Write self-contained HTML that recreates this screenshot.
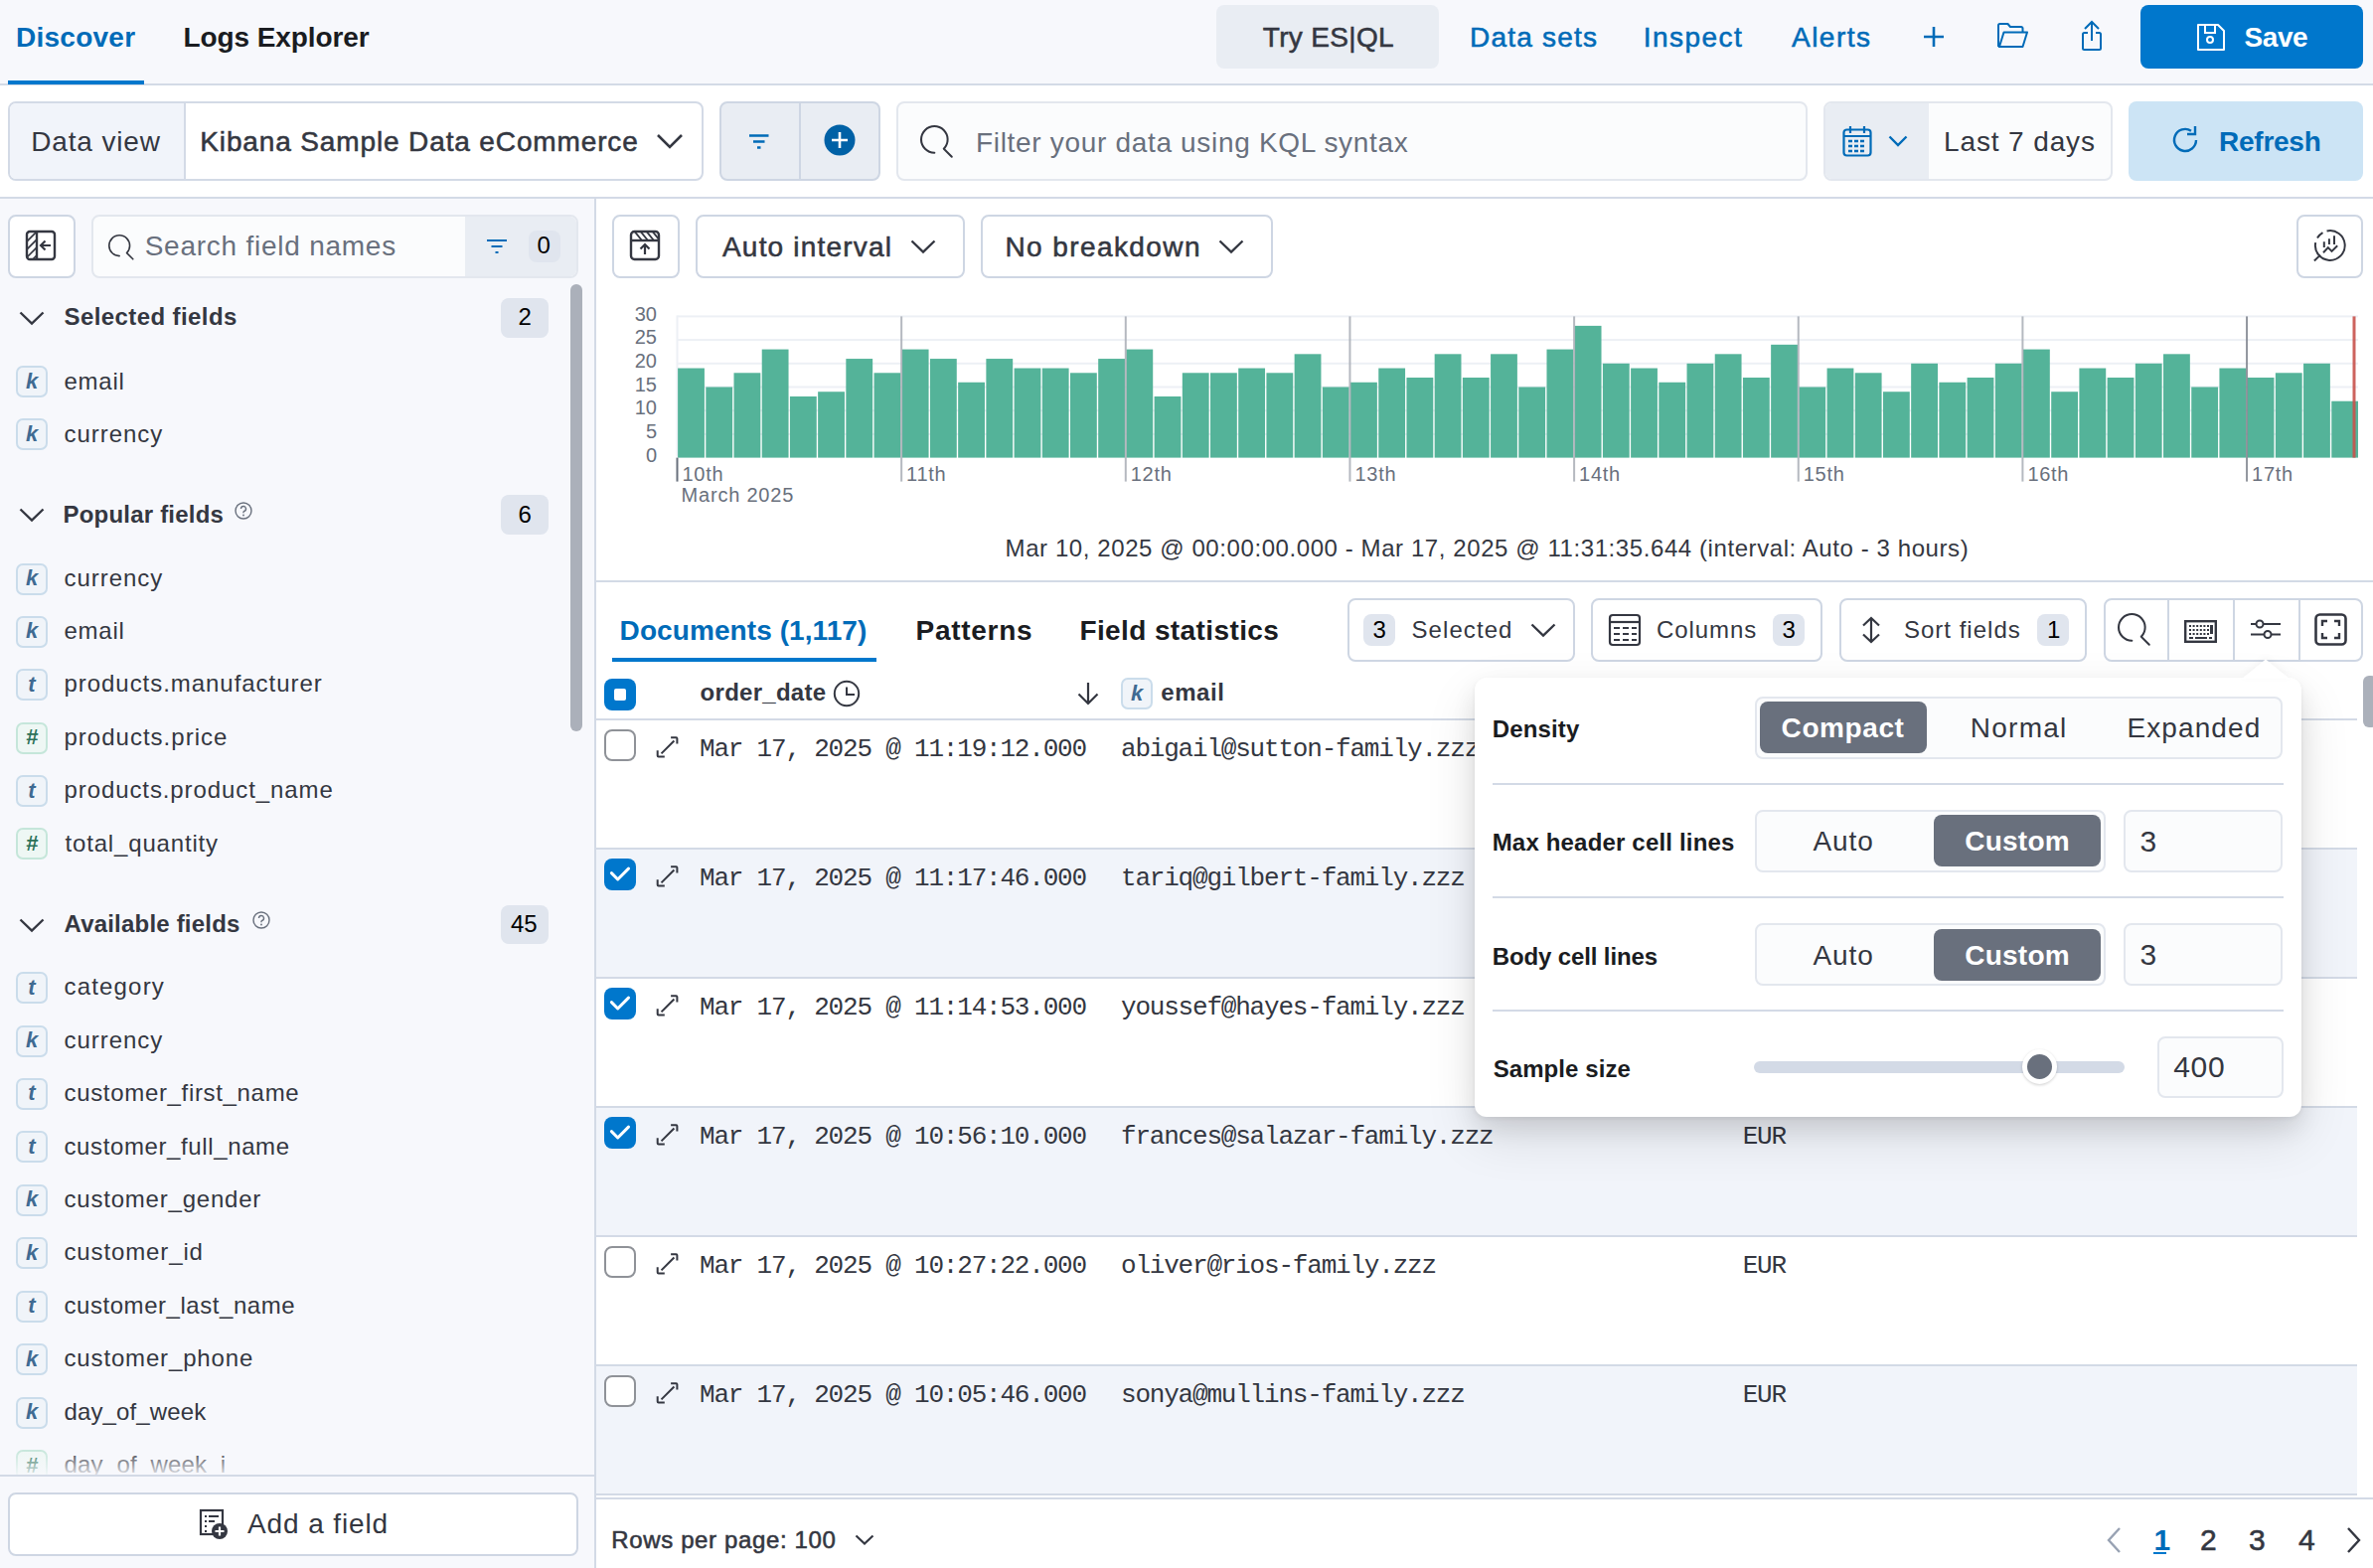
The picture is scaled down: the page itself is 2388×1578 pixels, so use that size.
<!DOCTYPE html>
<html><head><meta charset="utf-8"><title>Discover - Kibana</title>
<style>
html,body{margin:0;padding:0;}
body{width:2388px;height:1578px;overflow:hidden;position:relative;background:#fff;font-family:"Liberation Sans",Arial,sans-serif;}
.a{position:absolute;box-sizing:border-box;}
.t{position:absolute;white-space:pre;line-height:1;}
svg.a{overflow:visible;}
</style></head><body>

<div class="a" style="left:0.0px;top:0.0px;width:2388.0px;height:84.0px;background:#F7F8FC;"></div>
<div class="a" style="left:0.0px;top:84.0px;width:2388.0px;height:2.0px;background:#D3DAE6;"></div>
<div class="a" style="left:8.0px;top:81.0px;width:137.0px;height:4.0px;background:#0077CC;"></div>
<span class="t" style="left:16.0px;top:23.5px;font-size:28px;font-weight:700;color:#006BB8;font-family:'Liberation Sans', Arial, sans-serif;letter-spacing:0.258px;">Discover</span>
<span class="t" style="left:184.4px;top:23.5px;font-size:28px;font-weight:700;color:#1A1C21;font-family:'Liberation Sans', Arial, sans-serif;letter-spacing:-0.080px;">Logs Explorer</span>
<div class="a" style="left:1224.0px;top:5.0px;width:224.0px;height:64.0px;background:#E9EDF3;border-radius:8px;"></div>
<span class="t" style="left:1270.8px;top:23.5px;font-size:28px;font-weight:400;color:#343741;font-family:'Liberation Sans', Arial, sans-serif;letter-spacing:0.328px;-webkit-text-stroke:0.55px #343741;">Try ES|QL</span>
<span class="t" style="left:1479.0px;top:23.5px;font-size:28px;font-weight:400;color:#006BB8;font-family:'Liberation Sans', Arial, sans-serif;letter-spacing:1.216px;-webkit-text-stroke:0.55px #006BB8;">Data sets</span>
<span class="t" style="left:1653.8px;top:23.5px;font-size:28px;font-weight:400;color:#006BB8;font-family:'Liberation Sans', Arial, sans-serif;letter-spacing:1.451px;-webkit-text-stroke:0.55px #006BB8;">Inspect</span>
<span class="t" style="left:1803.0px;top:23.5px;font-size:28px;font-weight:400;color:#006BB8;font-family:'Liberation Sans', Arial, sans-serif;letter-spacing:1.486px;-webkit-text-stroke:0.55px #006BB8;">Alerts</span>
<svg class="a" style="left:1934.0px;top:25.0px;" width="24" height="24" viewBox="0 0 24 24"><path d="M12 2v20M2 12h20" stroke="#006BB8" stroke-width="2.6" fill="none"/></svg>
<svg class="a" style="left:2009.0px;top:22.0px;" width="34" height="28" viewBox="0 0 34 28"><path d="M2 25V3.5a1.5 1.5 0 0 1 1.5-1.5h8l2.5 3h11a1.5 1.5 0 0 1 1.5 1.5V10M2 25h24.5l4.5-14.5H7.5L3 25" stroke="#006BB8" stroke-width="2" fill="none" stroke-linejoin="round"/></svg>
<svg class="a" style="left:2093.0px;top:20.0px;" width="24" height="32" viewBox="0 0 24 32"><path d="M12 21V2M5 9l7-7 7 7M8 13H4.5a1.5 1.5 0 0 0-1.5 1.5V28.5a1.5 1.5 0 0 0 1.5 1.5h15a1.5 1.5 0 0 0 1.5-1.5V14.5a1.5 1.5 0 0 0-1.5-1.5H16" stroke="#006BB8" stroke-width="2" fill="none"/></svg>
<div class="a" style="left:2154.0px;top:5.0px;width:224.0px;height:64.0px;background:#0077CC;border-radius:8px;"></div>
<svg class="a" style="left:2210.0px;top:23.0px;" width="30" height="29" viewBox="0 0 30 29"><path d="M2 2h20l6 6v19H2z" stroke="#fff" stroke-width="2" fill="none" stroke-linejoin="round"/><path d="M9 2v8h10V2" stroke="#fff" stroke-width="2" fill="none"/><circle cx="14" cy="17" r="3" stroke="#fff" stroke-width="2" fill="none"/></svg>
<span class="t" style="left:2258.6px;top:23.6px;font-size:28px;font-weight:700;color:#fff;font-family:'Liberation Sans', Arial, sans-serif;letter-spacing:-0.473px;">Save</span>
<div class="a" style="left:0.0px;top:86.0px;width:2388.0px;height:112.0px;background:#fff;"></div>
<div class="a" style="left:0.0px;top:198.0px;width:2388.0px;height:2.0px;background:#D3DAE6;"></div>
<div class="a" style="left:8.0px;top:102.0px;width:700.0px;height:80.0px;border:2px solid #D3DAE6;border-radius:8px;background:#fff;"></div>
<div class="a" style="left:10.0px;top:104.0px;width:177.0px;height:76.0px;background:#F1F4FA;border-radius:6px 0 0 6px;border-right:2px solid #D3DAE6;"></div>
<span class="t" style="left:31.2px;top:128.6px;font-size:28px;font-weight:400;color:#343741;font-family:'Liberation Sans', Arial, sans-serif;letter-spacing:0.860px;">Data view</span>
<span class="t" style="left:201.3px;top:128.6px;font-size:28px;font-weight:400;color:#343741;font-family:'Liberation Sans', Arial, sans-serif;letter-spacing:0.866px;-webkit-text-stroke:0.55px #343741;">Kibana Sample Data eCommerce</span>
<svg class="a" style="left:660.0px;top:134.0px;" width="28" height="16" viewBox="0 0 28 16"><path d="M2 2l12 12L26 2" stroke="#343741" stroke-width="2.6" fill="none"/></svg>
<div class="a" style="left:724.0px;top:102.0px;width:162.0px;height:80.0px;background:#E9EDF3;border:2px solid #CED6E3;border-radius:8px;"></div>
<div class="a" style="left:804.0px;top:102.0px;width:2.0px;height:80.0px;background:#CED6E3;"></div>
<svg class="a" style="left:753.0px;top:134.0px;" width="22" height="18" viewBox="0 0 22 18"><path d="M1 2.5h19.5M5 8.5h11.5M9 14.5h3.5" stroke="#006BB8" stroke-width="2.4" fill="none"/></svg>
<svg class="a" style="left:829.0px;top:125.0px;" width="32" height="32" viewBox="0 0 32 32"><circle cx="16" cy="16" r="15.5" fill="#0061A6"/><path d="M16 8v16M8 16h16" stroke="#fff" stroke-width="2.6"/></svg>
<div class="a" style="left:902.0px;top:102.0px;width:917.0px;height:80.0px;background:#FBFCFD;border:2px solid #E3E7EE;border-radius:8px;"></div>
<svg class="a" style="left:926.0px;top:126.4px;" width="34" height="34" viewBox="0 0 34 34"><path transform="scale(2.05)" d="M11.271 11.978l3.872 3.873a.502.502 0 00.708 0 .502.502 0 000-.708l-3.565-3.564c2.38-2.747 2.267-6.923-.342-9.532-2.73-2.73-7.17-2.73-9.898 0-2.728 2.729-2.728 7.17 0 9.9a6.955 6.955 0 004.949 2.05.5.5 0 000-1 5.96 5.96 0 01-4.242-1.757 6.01 6.01 0 010-8.486c2.337-2.34 6.143-2.34 8.484 0a6.01 6.01 0 010 8.486.5.5 0 00.034.738z" fill="#343741"/></svg>
<span class="t" style="left:982.0px;top:129.5px;font-size:28px;font-weight:400;color:#69707D;font-family:'Liberation Sans', Arial, sans-serif;letter-spacing:0.682px;">Filter your data using KQL syntax</span>
<div class="a" style="left:1835.0px;top:102.0px;width:291.0px;height:80.0px;background:#FBFCFD;border:2px solid #E3E7EE;border-radius:8px;"></div>
<div class="a" style="left:1837.0px;top:104.0px;width:104.0px;height:76.0px;background:#E9EDF3;border-radius:6px 0 0 6px;"></div>
<svg class="a" style="left:1854.0px;top:126.0px;" width="30" height="32" viewBox="0 0 30 32"><rect x="1.5" y="4.5" width="27" height="26" rx="3" stroke="#006BB8" stroke-width="2.2" fill="none"/><path d="M1.5 11h27M8 1v7M22 1v7" stroke="#006BB8" stroke-width="2.2"/><path d="M6 16h4M12 16h4M18 16h4M6 21h4M12 21h4M18 21h4M6 26h4M12 26h4M18 26h4" stroke="#006BB8" stroke-width="2.4"/></svg>
<svg class="a" style="left:1900.0px;top:136.0px;" width="20" height="12" viewBox="0 0 20 12"><path d="M1.5 1.5l8.5 8.5 8.5-8.5" stroke="#006BB8" stroke-width="2.4" fill="none"/></svg>
<span class="t" style="left:1956.0px;top:128.6px;font-size:28px;font-weight:400;color:#343741;font-family:'Liberation Sans', Arial, sans-serif;letter-spacing:0.880px;">Last 7 days</span>
<div class="a" style="left:2142.0px;top:102.0px;width:236.0px;height:80.0px;background:#CCE4F5;border-radius:8px;"></div>
<svg class="a" style="left:2186.0px;top:126.0px;" width="28" height="30" viewBox="0 0 28 30"><path d="M24 15a11 11 0 1 1-5-9.3" stroke="#006BB8" stroke-width="2.4" fill="none"/><path d="M23 1v8h-8" stroke="#006BB8" stroke-width="2.4" fill="none"/></svg>
<span class="t" style="left:2233.0px;top:128.6px;font-size:28px;font-weight:700;color:#006BB8;font-family:'Liberation Sans', Arial, sans-serif;letter-spacing:-0.243px;">Refresh</span>
<div class="a" style="left:0.0px;top:200.0px;width:598.0px;height:1378.0px;background:#F7F8FC;"></div>
<div class="a" style="left:598.0px;top:200.0px;width:2.0px;height:1378.0px;background:#D3DAE6;"></div>
<div class="a" style="left:8.0px;top:216.0px;width:68.0px;height:64.0px;background:#fff;border:2px solid #CED6E3;border-radius:8px;"></div>
<svg class="a" style="left:25.0px;top:231.0px;" width="32" height="32" viewBox="0 0 32 32"><defs><clipPath id="cl1"><rect x="2" y="2" width="10" height="28"/></clipPath></defs><rect x="2" y="2" width="28" height="28" rx="3" stroke="#343741" stroke-width="2.4" fill="none"/><path d="M12 2v28" stroke="#343741" stroke-width="2.4"/><g clip-path="url(#cl1)" stroke="#343741" stroke-width="1.6"><path d="M-4 10l14-14M-4 18l18-18M-4 26l18-18M-4 34l18-18M-4 42l18-18"/></g><path d="M26 16H16M20.5 11.5L16 16l4.5 4.5" stroke="#343741" stroke-width="2.2" fill="none"/></svg>
<div class="a" style="left:92.0px;top:216.0px;width:490.0px;height:64.0px;background:#FBFCFD;border:2px solid #E3E7EE;border-radius:8px;"></div>
<div class="a" style="left:468.0px;top:218.0px;width:112.0px;height:60.0px;background:#E9EDF3;border-radius:0 6px 6px 0;"></div>
<svg class="a" style="left:108.5px;top:235.5px;" width="28" height="28" viewBox="0 0 28 28"><path transform="scale(1.6)" d="M11.271 11.978l3.872 3.873a.502.502 0 00.708 0 .502.502 0 000-.708l-3.565-3.564c2.38-2.747 2.267-6.923-.342-9.532-2.73-2.73-7.17-2.73-9.898 0-2.728 2.729-2.728 7.17 0 9.9a6.955 6.955 0 004.949 2.05.5.5 0 000-1 5.96 5.96 0 01-4.242-1.757 6.01 6.01 0 010-8.486c2.337-2.34 6.143-2.34 8.484 0a6.01 6.01 0 010 8.486.5.5 0 00.034.738z" fill="#343741"/></svg>
<span class="t" style="left:145.7px;top:233.7px;font-size:28px;font-weight:400;color:#69707D;font-family:'Liberation Sans', Arial, sans-serif;letter-spacing:0.754px;">Search field names</span>
<svg class="a" style="left:489.0px;top:240.0px;" width="22" height="16" viewBox="0 0 22 16"><path d="M1 2h20M5.5 8h11M9.5 14h3" stroke="#006BB8" stroke-width="2.2" fill="none"/></svg>
<div class="a" style="left:532.0px;top:232.0px;width:32.0px;height:32.0px;background:#E0E5EE;border-radius:8px;"></div>
<span class="t" style="left:540.5px;top:234.5px;font-size:24px;font-weight:400;color:#000;font-family:'Liberation Sans', Arial, sans-serif;letter-spacing:0.000px;">0</span>
<div class="a" style="left:574.0px;top:286.0px;width:12.0px;height:450.0px;background:#ABB0BA;border-radius:6px;"></div>
<svg class="a" style="left:19.0px;top:313.0px;" width="26" height="14" viewBox="0 0 26 14"><path d="M1.5 1.5L13 12.5L24.5 1.5" stroke="#343741" stroke-width="2.4" fill="none"/></svg>
<span class="t" style="left:64.5px;top:307.2px;font-size:24px;font-weight:700;color:#343741;font-family:'Liberation Sans', Arial, sans-serif;letter-spacing:0.413px;">Selected fields</span>
<div class="a" style="left:504.0px;top:300.0px;width:48.0px;height:39.5px;background:#E0E5EE;border-radius:8px;"></div>
<span class="t" style="left:521.5px;top:307.2px;font-size:24px;font-weight:400;color:#000;font-family:'Liberation Sans', Arial, sans-serif;letter-spacing:0.000px;">2</span>
<div class="a" style="left:16.0px;top:368.4px;width:32.0px;height:32.0px;background:#F0F4F9;border:2px solid #CADCEB;border-radius:7px;"></div>
<span class="t" style="left:16px;top:368px;width:32px;text-align:center;font-size:22px;font-weight:700;font-style:italic;color:#3F6A92;font-family:'Liberation Sans', Arial, sans-serif;line-height:32px;">k</span>
<span class="t" style="left:64.5px;top:371.5px;font-size:24px;font-weight:400;color:#343741;font-family:'Liberation Sans', Arial, sans-serif;letter-spacing:0.745px;">email</span>
<div class="a" style="left:16.0px;top:421.4px;width:32.0px;height:32.0px;background:#F0F4F9;border:2px solid #CADCEB;border-radius:7px;"></div>
<span class="t" style="left:16px;top:421px;width:32px;text-align:center;font-size:22px;font-weight:700;font-style:italic;color:#3F6A92;font-family:'Liberation Sans', Arial, sans-serif;line-height:32px;">k</span>
<span class="t" style="left:64.5px;top:424.5px;font-size:24px;font-weight:400;color:#343741;font-family:'Liberation Sans', Arial, sans-serif;letter-spacing:0.953px;">currency</span>
<svg class="a" style="left:19.0px;top:511.3px;" width="26" height="14" viewBox="0 0 26 14"><path d="M1.5 1.5L13 12.5L24.5 1.5" stroke="#343741" stroke-width="2.4" fill="none"/></svg>
<span class="t" style="left:63.5px;top:505.5px;font-size:24px;font-weight:700;color:#343741;font-family:'Liberation Sans', Arial, sans-serif;letter-spacing:0.204px;">Popular fields</span>
<svg class="a" style="left:236.0px;top:504.8px;" width="18" height="18" viewBox="0 0 18 18"><circle cx="9" cy="9" r="8" stroke="#69707D" stroke-width="1.4" fill="none"/><path d="M6.5 7a2.5 2.5 0 1 1 3.2 2.4c-.5.2-.7.6-.7 1.1v.8" stroke="#69707D" stroke-width="1.4" fill="none"/><circle cx="9" cy="13.5" r=".9" fill="#69707D"/></svg>
<div class="a" style="left:504.0px;top:498.3px;width:48.0px;height:39.5px;background:#E0E5EE;border-radius:8px;"></div>
<span class="t" style="left:521.5px;top:505.5px;font-size:24px;font-weight:400;color:#000;font-family:'Liberation Sans', Arial, sans-serif;letter-spacing:0.000px;">6</span>
<div class="a" style="left:16.0px;top:566.6px;width:32.0px;height:32.0px;background:#F0F4F9;border:2px solid #CADCEB;border-radius:7px;"></div>
<span class="t" style="left:16px;top:566px;width:32px;text-align:center;font-size:22px;font-weight:700;font-style:italic;color:#3F6A92;font-family:'Liberation Sans', Arial, sans-serif;line-height:32px;">k</span>
<span class="t" style="left:64.5px;top:569.7px;font-size:24px;font-weight:400;color:#343741;font-family:'Liberation Sans', Arial, sans-serif;letter-spacing:0.953px;">currency</span>
<div class="a" style="left:16.0px;top:620.0px;width:32.0px;height:32.0px;background:#F0F4F9;border:2px solid #CADCEB;border-radius:7px;"></div>
<span class="t" style="left:16px;top:619px;width:32px;text-align:center;font-size:22px;font-weight:700;font-style:italic;color:#3F6A92;font-family:'Liberation Sans', Arial, sans-serif;line-height:32px;">k</span>
<span class="t" style="left:64.5px;top:623.0px;font-size:24px;font-weight:400;color:#343741;font-family:'Liberation Sans', Arial, sans-serif;letter-spacing:0.745px;">email</span>
<div class="a" style="left:16.0px;top:673.3px;width:32.0px;height:32.0px;background:#F0F4F9;border:2px solid #CADCEB;border-radius:7px;"></div>
<span class="t" style="left:16px;top:673px;width:32px;text-align:center;font-size:22px;font-weight:700;font-style:italic;color:#3F6A92;font-family:'Liberation Sans', Arial, sans-serif;line-height:32px;">t</span>
<span class="t" style="left:64.5px;top:676.4px;font-size:24px;font-weight:400;color:#343741;font-family:'Liberation Sans', Arial, sans-serif;letter-spacing:0.954px;">products.manufacturer</span>
<div class="a" style="left:16.0px;top:726.7px;width:32.0px;height:32.0px;background:#EEF7F4;border:2px solid #C5E6DA;border-radius:7px;"></div>
<span class="t" style="left:16px;top:726px;width:32px;text-align:center;font-size:22px;font-weight:700;font-style:italic;color:#2C7259;font-family:'Liberation Sans', Arial, sans-serif;line-height:32px;">#</span>
<span class="t" style="left:64.5px;top:729.8px;font-size:24px;font-weight:400;color:#343741;font-family:'Liberation Sans', Arial, sans-serif;letter-spacing:1.008px;">products.price</span>
<div class="a" style="left:16.0px;top:780.0px;width:32.0px;height:32.0px;background:#F0F4F9;border:2px solid #CADCEB;border-radius:7px;"></div>
<span class="t" style="left:16px;top:780px;width:32px;text-align:center;font-size:22px;font-weight:700;font-style:italic;color:#3F6A92;font-family:'Liberation Sans', Arial, sans-serif;line-height:32px;">t</span>
<span class="t" style="left:64.5px;top:783.1px;font-size:24px;font-weight:400;color:#343741;font-family:'Liberation Sans', Arial, sans-serif;letter-spacing:0.905px;">products.product_name</span>
<div class="a" style="left:16.0px;top:833.4px;width:32.0px;height:32.0px;background:#EEF7F4;border:2px solid #C5E6DA;border-radius:7px;"></div>
<span class="t" style="left:16px;top:833px;width:32px;text-align:center;font-size:22px;font-weight:700;font-style:italic;color:#2C7259;font-family:'Liberation Sans', Arial, sans-serif;line-height:32px;">#</span>
<span class="t" style="left:65.5px;top:836.5px;font-size:24px;font-weight:400;color:#343741;font-family:'Liberation Sans', Arial, sans-serif;letter-spacing:0.833px;">total_quantity</span>
<svg class="a" style="left:19.0px;top:923.5px;" width="26" height="14" viewBox="0 0 26 14"><path d="M1.5 1.5L13 12.5L24.5 1.5" stroke="#343741" stroke-width="2.4" fill="none"/></svg>
<span class="t" style="left:64.5px;top:917.7px;font-size:24px;font-weight:700;color:#343741;font-family:'Liberation Sans', Arial, sans-serif;letter-spacing:0.200px;">Available fields</span>
<svg class="a" style="left:253.5px;top:917.0px;" width="18" height="18" viewBox="0 0 18 18"><circle cx="9" cy="9" r="8" stroke="#69707D" stroke-width="1.4" fill="none"/><path d="M6.5 7a2.5 2.5 0 1 1 3.2 2.4c-.5.2-.7.6-.7 1.1v.8" stroke="#69707D" stroke-width="1.4" fill="none"/><circle cx="9" cy="13.5" r=".9" fill="#69707D"/></svg>
<div class="a" style="left:504.0px;top:910.5px;width:48.0px;height:39.5px;background:#E0E5EE;border-radius:8px;"></div>
<span class="t" style="left:514.0px;top:917.7px;font-size:24px;font-weight:400;color:#000;font-family:'Liberation Sans', Arial, sans-serif;letter-spacing:0.000px;">45</span>
<div class="a" style="left:16.0px;top:978.0px;width:32.0px;height:32.0px;background:#F0F4F9;border:2px solid #CADCEB;border-radius:7px;"></div>
<span class="t" style="left:16px;top:978px;width:32px;text-align:center;font-size:22px;font-weight:700;font-style:italic;color:#3F6A92;font-family:'Liberation Sans', Arial, sans-serif;line-height:32px;">t</span>
<span class="t" style="left:64.5px;top:981.1px;font-size:24px;font-weight:400;color:#343741;font-family:'Liberation Sans', Arial, sans-serif;letter-spacing:1.178px;">category</span>
<div class="a" style="left:16.0px;top:1031.5px;width:32.0px;height:32.0px;background:#F0F4F9;border:2px solid #CADCEB;border-radius:7px;"></div>
<span class="t" style="left:16px;top:1031px;width:32px;text-align:center;font-size:22px;font-weight:700;font-style:italic;color:#3F6A92;font-family:'Liberation Sans', Arial, sans-serif;line-height:32px;">k</span>
<span class="t" style="left:64.5px;top:1034.6px;font-size:24px;font-weight:400;color:#343741;font-family:'Liberation Sans', Arial, sans-serif;letter-spacing:0.953px;">currency</span>
<div class="a" style="left:16.0px;top:1084.9px;width:32.0px;height:32.0px;background:#F0F4F9;border:2px solid #CADCEB;border-radius:7px;"></div>
<span class="t" style="left:16px;top:1084px;width:32px;text-align:center;font-size:22px;font-weight:700;font-style:italic;color:#3F6A92;font-family:'Liberation Sans', Arial, sans-serif;line-height:32px;">t</span>
<span class="t" style="left:64.5px;top:1088.0px;font-size:24px;font-weight:400;color:#343741;font-family:'Liberation Sans', Arial, sans-serif;letter-spacing:0.670px;">customer_first_name</span>
<div class="a" style="left:16.0px;top:1138.4px;width:32.0px;height:32.0px;background:#F0F4F9;border:2px solid #CADCEB;border-radius:7px;"></div>
<span class="t" style="left:16px;top:1138px;width:32px;text-align:center;font-size:22px;font-weight:700;font-style:italic;color:#3F6A92;font-family:'Liberation Sans', Arial, sans-serif;line-height:32px;">t</span>
<span class="t" style="left:64.5px;top:1141.5px;font-size:24px;font-weight:400;color:#343741;font-family:'Liberation Sans', Arial, sans-serif;letter-spacing:0.614px;">customer_full_name</span>
<div class="a" style="left:16.0px;top:1191.9px;width:32.0px;height:32.0px;background:#F0F4F9;border:2px solid #CADCEB;border-radius:7px;"></div>
<span class="t" style="left:16px;top:1191px;width:32px;text-align:center;font-size:22px;font-weight:700;font-style:italic;color:#3F6A92;font-family:'Liberation Sans', Arial, sans-serif;line-height:32px;">k</span>
<span class="t" style="left:64.5px;top:1195.0px;font-size:24px;font-weight:400;color:#343741;font-family:'Liberation Sans', Arial, sans-serif;letter-spacing:0.787px;">customer_gender</span>
<div class="a" style="left:16.0px;top:1245.3px;width:32.0px;height:32.0px;background:#F0F4F9;border:2px solid #CADCEB;border-radius:7px;"></div>
<span class="t" style="left:16px;top:1245px;width:32px;text-align:center;font-size:22px;font-weight:700;font-style:italic;color:#3F6A92;font-family:'Liberation Sans', Arial, sans-serif;line-height:32px;">k</span>
<span class="t" style="left:64.5px;top:1248.4px;font-size:24px;font-weight:400;color:#343741;font-family:'Liberation Sans', Arial, sans-serif;letter-spacing:0.872px;">customer_id</span>
<div class="a" style="left:16.0px;top:1298.8px;width:32.0px;height:32.0px;background:#F0F4F9;border:2px solid #CADCEB;border-radius:7px;"></div>
<span class="t" style="left:16px;top:1298px;width:32px;text-align:center;font-size:22px;font-weight:700;font-style:italic;color:#3F6A92;font-family:'Liberation Sans', Arial, sans-serif;line-height:32px;">t</span>
<span class="t" style="left:64.5px;top:1301.9px;font-size:24px;font-weight:400;color:#343741;font-family:'Liberation Sans', Arial, sans-serif;letter-spacing:0.546px;">customer_last_name</span>
<div class="a" style="left:16.0px;top:1352.3px;width:32.0px;height:32.0px;background:#F0F4F9;border:2px solid #CADCEB;border-radius:7px;"></div>
<span class="t" style="left:16px;top:1352px;width:32px;text-align:center;font-size:22px;font-weight:700;font-style:italic;color:#3F6A92;font-family:'Liberation Sans', Arial, sans-serif;line-height:32px;">k</span>
<span class="t" style="left:64.5px;top:1355.4px;font-size:24px;font-weight:400;color:#343741;font-family:'Liberation Sans', Arial, sans-serif;letter-spacing:0.844px;">customer_phone</span>
<div class="a" style="left:16.0px;top:1405.8px;width:32.0px;height:32.0px;background:#F0F4F9;border:2px solid #CADCEB;border-radius:7px;"></div>
<span class="t" style="left:16px;top:1405px;width:32px;text-align:center;font-size:22px;font-weight:700;font-style:italic;color:#3F6A92;font-family:'Liberation Sans', Arial, sans-serif;line-height:32px;">k</span>
<span class="t" style="left:64.5px;top:1408.8px;font-size:24px;font-weight:400;color:#343741;font-family:'Liberation Sans', Arial, sans-serif;letter-spacing:0.127px;">day_of_week</span>
<div class="a" style="left:16.0px;top:1459.2px;width:32.0px;height:32.0px;background:#EEF7F4;border:2px solid #C5E6DA;border-radius:7px;"></div>
<span class="t" style="left:16px;top:1459px;width:32px;text-align:center;font-size:22px;font-weight:700;font-style:italic;color:#2C7259;font-family:'Liberation Sans', Arial, sans-serif;line-height:32px;">#</span>
<span class="t" style="left:64.5px;top:1462.3px;font-size:24px;font-weight:400;color:#343741;font-family:'Liberation Sans', Arial, sans-serif;letter-spacing:0.210px;">day_of_week_i</span>
<div class="a" style="left:0.0px;top:1458.0px;width:596.0px;height:27.0px;background:linear-gradient(to bottom, rgba(247,248,252,0) 0%, rgba(247,248,252,0.9) 100%);"></div>
<div class="a" style="left:0.0px;top:1485.0px;width:596.0px;height:93.0px;background:#F7F8FC;"></div>
<div class="a" style="left:0.0px;top:1484.0px;width:598.0px;height:2.0px;background:#D3DAE6;"></div>
<div class="a" style="left:8.0px;top:1502.0px;width:574.0px;height:64.0px;background:#fff;border:2px solid #CED6E3;border-radius:8px;"></div>
<svg class="a" style="left:200.0px;top:1518.0px;" width="32" height="32" viewBox="0 0 32 32"><rect x="2" y="2" width="22" height="24" stroke="#343741" stroke-width="2.2" fill="none"/><path d="M6 8h2M10 8h10M6 13h2M10 13h6M6 18h2M6 23h2" stroke="#343741" stroke-width="2.2"/><circle cx="21" cy="23" r="8" fill="#343741"/><path d="M21 18.5v9M16.5 23h9" stroke="#fff" stroke-width="2.2"/></svg>
<span class="t" style="left:249.0px;top:1520.3px;font-size:28px;font-weight:400;color:#343741;font-family:'Liberation Sans', Arial, sans-serif;letter-spacing:0.886px;">Add a field</span>
<div class="a" style="left:600.0px;top:200.0px;width:1788.0px;height:384.0px;background:#fff;"></div>
<div class="a" style="left:600.0px;top:584.0px;width:1788.0px;height:2.0px;background:#D3DAE6;"></div>
<div class="a" style="left:616.0px;top:216.0px;width:68.0px;height:64.0px;background:#fff;border:2px solid #CED6E3;border-radius:8px;"></div>
<svg class="a" style="left:633.0px;top:231.0px;" width="32" height="32" viewBox="0 0 32 32"><defs><clipPath id="cl2"><rect x="2" y="2" width="28" height="9"/></clipPath></defs><rect x="2" y="2" width="28" height="28" rx="3.5" stroke="#343741" stroke-width="2.4" fill="none"/><path d="M2 11h28" stroke="#343741" stroke-width="2.4"/><g clip-path="url(#cl2)" stroke="#343741" stroke-width="1.8"><path d="M4 0l9 11M10 0l9 11M16 0l9 11M22 0l9 11M28 0l9 11"/></g><path d="M16 25V15M11.5 19.5L16 15l4.5 4.5" stroke="#343741" stroke-width="2.2" fill="none"/></svg>
<div class="a" style="left:700.0px;top:216.0px;width:271.0px;height:64.0px;background:#fff;border:2px solid #CED6E3;border-radius:8px;"></div>
<span class="t" style="left:727.0px;top:234.8px;font-size:28px;font-weight:400;color:#343741;font-family:'Liberation Sans', Arial, sans-serif;letter-spacing:1.198px;-webkit-text-stroke:0.55px #343741;">Auto interval</span>
<svg class="a" style="left:916.0px;top:241.0px;" width="26" height="14" viewBox="0 0 26 14"><path d="M1.5 1.5L13 12.5L24.5 1.5" stroke="#343741" stroke-width="2.4" fill="none"/></svg>
<div class="a" style="left:987.0px;top:216.0px;width:294.0px;height:64.0px;background:#fff;border:2px solid #CED6E3;border-radius:8px;"></div>
<span class="t" style="left:1011.4px;top:234.8px;font-size:28px;font-weight:400;color:#343741;font-family:'Liberation Sans', Arial, sans-serif;letter-spacing:1.420px;-webkit-text-stroke:0.55px #343741;">No breakdown</span>
<svg class="a" style="left:1226.0px;top:241.0px;" width="26" height="14" viewBox="0 0 26 14"><path d="M1.5 1.5L13 12.5L24.5 1.5" stroke="#343741" stroke-width="2.4" fill="none"/></svg>
<div class="a" style="left:2311.0px;top:216.0px;width:67.0px;height:64.0px;background:#fff;border:2px solid #CED6E3;border-radius:8px;"></div>
<svg class="a" style="left:2320.0px;top:226.0px;" width="40" height="40" viewBox="0 0 40 40"><g stroke="#343741" stroke-width="2" fill="none"><path d="M21.55 6.46A14.9 14.9 0 1 1 10.17 18.16"/><path d="M11.96 13.44A14.9 14.9 0 0 1 17.49 8.02"/><path d="M15 30.6L8.9 36.5"/><path d="M18 28.2l4.8-5.1 3.7 3.8 5.7-5.6"/><path d="M18.8 17.2v5.7M23.9 14.3v5.6M29 11.3v8.6"/></g></svg>
<svg class="a" style="left:0;top:0;" width="2388" height="600"><rect x="681.50" y="435.90" width="1691.50" height="2" fill="#EDF0F5"/><rect x="681.50" y="412.20" width="1691.50" height="2" fill="#EDF0F5"/><rect x="681.50" y="388.50" width="1691.50" height="2" fill="#EDF0F5"/><rect x="681.50" y="364.80" width="1691.50" height="2" fill="#EDF0F5"/><rect x="681.50" y="341.10" width="1691.50" height="2" fill="#EDF0F5"/><rect x="681.50" y="317.40" width="1691.50" height="2" fill="#EDF0F5"/><rect x="680.50" y="317.40" width="2" height="142.20" fill="#EDF0F5"/><rect x="682.10" y="370.54" width="26.81" height="90.06" fill="#54B399"/><rect x="710.31" y="389.50" width="26.81" height="71.10" fill="#54B399"/><rect x="738.51" y="375.28" width="26.81" height="85.32" fill="#54B399"/><rect x="766.72" y="351.58" width="26.81" height="109.02" fill="#54B399"/><rect x="794.93" y="398.98" width="26.81" height="61.62" fill="#54B399"/><rect x="823.13" y="394.24" width="26.81" height="66.36" fill="#54B399"/><rect x="851.34" y="361.06" width="26.81" height="99.54" fill="#54B399"/><rect x="879.54" y="375.28" width="26.81" height="85.32" fill="#54B399"/><rect x="907.75" y="351.58" width="26.81" height="109.02" fill="#54B399"/><rect x="935.96" y="361.06" width="26.81" height="99.54" fill="#54B399"/><rect x="964.16" y="384.76" width="26.81" height="75.84" fill="#54B399"/><rect x="992.37" y="361.06" width="26.81" height="99.54" fill="#54B399"/><rect x="1020.58" y="370.54" width="26.81" height="90.06" fill="#54B399"/><rect x="1048.78" y="370.54" width="26.81" height="90.06" fill="#54B399"/><rect x="1076.99" y="375.28" width="26.81" height="85.32" fill="#54B399"/><rect x="1105.19" y="361.06" width="26.81" height="99.54" fill="#54B399"/><rect x="1133.40" y="351.58" width="26.81" height="109.02" fill="#54B399"/><rect x="1161.61" y="398.98" width="26.81" height="61.62" fill="#54B399"/><rect x="1189.81" y="375.28" width="26.81" height="85.32" fill="#54B399"/><rect x="1218.02" y="375.28" width="26.81" height="85.32" fill="#54B399"/><rect x="1246.22" y="370.54" width="26.81" height="90.06" fill="#54B399"/><rect x="1274.43" y="375.28" width="26.81" height="85.32" fill="#54B399"/><rect x="1302.64" y="356.32" width="26.81" height="104.28" fill="#54B399"/><rect x="1330.84" y="389.50" width="26.81" height="71.10" fill="#54B399"/><rect x="1359.05" y="384.76" width="26.81" height="75.84" fill="#54B399"/><rect x="1387.26" y="370.54" width="26.81" height="90.06" fill="#54B399"/><rect x="1415.46" y="380.02" width="26.81" height="80.58" fill="#54B399"/><rect x="1443.67" y="356.32" width="26.81" height="104.28" fill="#54B399"/><rect x="1471.88" y="380.02" width="26.81" height="80.58" fill="#54B399"/><rect x="1500.08" y="356.32" width="26.81" height="104.28" fill="#54B399"/><rect x="1528.29" y="389.50" width="26.81" height="71.10" fill="#54B399"/><rect x="1556.49" y="351.58" width="26.81" height="109.02" fill="#54B399"/><rect x="1584.70" y="327.88" width="26.81" height="132.72" fill="#54B399"/><rect x="1612.91" y="365.80" width="26.81" height="94.80" fill="#54B399"/><rect x="1641.11" y="370.54" width="26.81" height="90.06" fill="#54B399"/><rect x="1669.32" y="384.76" width="26.81" height="75.84" fill="#54B399"/><rect x="1697.53" y="365.80" width="26.81" height="94.80" fill="#54B399"/><rect x="1725.73" y="356.32" width="26.81" height="104.28" fill="#54B399"/><rect x="1753.94" y="380.02" width="26.81" height="80.58" fill="#54B399"/><rect x="1782.14" y="346.84" width="26.81" height="113.76" fill="#54B399"/><rect x="1810.35" y="389.50" width="26.81" height="71.10" fill="#54B399"/><rect x="1838.56" y="370.54" width="26.81" height="90.06" fill="#54B399"/><rect x="1866.76" y="375.28" width="26.81" height="85.32" fill="#54B399"/><rect x="1894.97" y="394.24" width="26.81" height="66.36" fill="#54B399"/><rect x="1923.17" y="365.80" width="26.81" height="94.80" fill="#54B399"/><rect x="1951.38" y="384.76" width="26.81" height="75.84" fill="#54B399"/><rect x="1979.59" y="380.02" width="26.81" height="80.58" fill="#54B399"/><rect x="2007.79" y="365.80" width="26.81" height="94.80" fill="#54B399"/><rect x="2036.00" y="351.58" width="26.81" height="109.02" fill="#54B399"/><rect x="2064.21" y="394.24" width="26.81" height="66.36" fill="#54B399"/><rect x="2092.41" y="370.54" width="26.81" height="90.06" fill="#54B399"/><rect x="2120.62" y="380.02" width="26.81" height="80.58" fill="#54B399"/><rect x="2148.83" y="365.80" width="26.81" height="94.80" fill="#54B399"/><rect x="2177.03" y="356.32" width="26.81" height="104.28" fill="#54B399"/><rect x="2205.24" y="389.50" width="26.81" height="71.10" fill="#54B399"/><rect x="2233.44" y="370.54" width="26.81" height="90.06" fill="#54B399"/><rect x="2261.65" y="380.02" width="26.81" height="80.58" fill="#54B399"/><rect x="2289.86" y="375.28" width="26.81" height="85.32" fill="#54B399"/><rect x="2318.06" y="365.80" width="26.81" height="94.80" fill="#54B399"/><rect x="2346.27" y="403.72" width="26.73" height="56.88" fill="#54B399"/><rect x="680.50" y="460.60" width="2" height="24.00" fill="#69707D"/><rect x="906.15" y="318.40" width="2" height="166.20" fill="#A8ADB5" fill-opacity="0.85"/><rect x="1131.80" y="318.40" width="2" height="166.20" fill="#A8ADB5" fill-opacity="0.85"/><rect x="1357.45" y="318.40" width="2" height="166.20" fill="#A8ADB5" fill-opacity="0.85"/><rect x="1583.10" y="318.40" width="2" height="166.20" fill="#A8ADB5" fill-opacity="0.85"/><rect x="1808.75" y="318.40" width="2" height="166.20" fill="#A8ADB5" fill-opacity="0.85"/><rect x="2034.40" y="318.40" width="2" height="166.20" fill="#A8ADB5" fill-opacity="0.85"/><rect x="2260.05" y="318.40" width="2" height="166.20" fill="#7E838C" fill-opacity="0.85"/><rect x="2367.5" y="318.40" width="3" height="142.20" fill="#C8524C" fill-opacity="0.9"/></svg>
<span class="t" style="left:600px;width:61px;text-align:right;top:447.7px;font-size:20px;color:#69707D;">0</span>
<span class="t" style="left:600px;width:61px;text-align:right;top:424.0px;font-size:20px;color:#69707D;">5</span>
<span class="t" style="left:600px;width:61px;text-align:right;top:400.3px;font-size:20px;color:#69707D;">10</span>
<span class="t" style="left:600px;width:61px;text-align:right;top:376.6px;font-size:20px;color:#69707D;">15</span>
<span class="t" style="left:600px;width:61px;text-align:right;top:352.9px;font-size:20px;color:#69707D;">20</span>
<span class="t" style="left:600px;width:61px;text-align:right;top:329.2px;font-size:20px;color:#69707D;">25</span>
<span class="t" style="left:600px;width:61px;text-align:right;top:305.5px;font-size:20px;color:#69707D;">30</span>
<span class="t" style="left:686.5px;top:467.3px;font-size:20px;font-weight:400;color:#69707D;font-family:'Liberation Sans', Arial, sans-serif;letter-spacing:0.000px;letter-spacing:0.7px;">10th</span>
<span class="t" style="left:912.1px;top:467.3px;font-size:20px;font-weight:400;color:#69707D;font-family:'Liberation Sans', Arial, sans-serif;letter-spacing:0.000px;letter-spacing:0.7px;">11th</span>
<span class="t" style="left:1137.8px;top:467.3px;font-size:20px;font-weight:400;color:#69707D;font-family:'Liberation Sans', Arial, sans-serif;letter-spacing:0.000px;letter-spacing:0.7px;">12th</span>
<span class="t" style="left:1363.5px;top:467.3px;font-size:20px;font-weight:400;color:#69707D;font-family:'Liberation Sans', Arial, sans-serif;letter-spacing:0.000px;letter-spacing:0.7px;">13th</span>
<span class="t" style="left:1589.1px;top:467.3px;font-size:20px;font-weight:400;color:#69707D;font-family:'Liberation Sans', Arial, sans-serif;letter-spacing:0.000px;letter-spacing:0.7px;">14th</span>
<span class="t" style="left:1814.8px;top:467.3px;font-size:20px;font-weight:400;color:#69707D;font-family:'Liberation Sans', Arial, sans-serif;letter-spacing:0.000px;letter-spacing:0.7px;">15th</span>
<span class="t" style="left:2040.4px;top:467.3px;font-size:20px;font-weight:400;color:#69707D;font-family:'Liberation Sans', Arial, sans-serif;letter-spacing:0.000px;letter-spacing:0.7px;">16th</span>
<span class="t" style="left:2266.1px;top:467.3px;font-size:20px;font-weight:400;color:#69707D;font-family:'Liberation Sans', Arial, sans-serif;letter-spacing:0.000px;letter-spacing:0.7px;">17th</span>
<span class="t" style="left:685.6px;top:487.6px;font-size:20px;font-weight:400;color:#69707D;font-family:'Liberation Sans', Arial, sans-serif;letter-spacing:0.790px;">March 2025</span>
<span class="t" style="left:1011.6px;top:540.0px;font-size:24px;font-weight:400;color:#343741;font-family:'Liberation Sans', Arial, sans-serif;letter-spacing:0.581px;">Mar 10, 2025 @ 00:00:00.000 - Mar 17, 2025 @ 11:31:35.644 (interval: Auto - 3 hours)</span>
<span class="t" style="left:623.6px;top:621.1px;font-size:28px;font-weight:700;color:#006BB8;font-family:'Liberation Sans', Arial, sans-serif;letter-spacing:0.082px;">Documents (1,117)</span>
<div class="a" style="left:616.0px;top:662.0px;width:266.0px;height:4.0px;background:#0077CC;"></div>
<span class="t" style="left:921.5px;top:621.1px;font-size:28px;font-weight:700;color:#1A1C21;font-family:'Liberation Sans', Arial, sans-serif;letter-spacing:0.719px;">Patterns</span>
<span class="t" style="left:1086.4px;top:621.1px;font-size:28px;font-weight:700;color:#1A1C21;font-family:'Liberation Sans', Arial, sans-serif;letter-spacing:0.398px;">Field statistics</span>
<div class="a" style="left:1356.0px;top:602.0px;width:229.0px;height:64.0px;background:#fff;border:2px solid #CED6E3;border-radius:8px;"></div>
<div class="a" style="left:1372.0px;top:618.0px;width:32.0px;height:32.0px;background:#E0E5EE;border-radius:8px;"></div>
<span class="t" style="left:1381.6px;top:621.7px;font-size:24px;font-weight:400;color:#000;font-family:'Liberation Sans', Arial, sans-serif;letter-spacing:0.000px;">3</span>
<span class="t" style="left:1420.5px;top:621.7px;font-size:24px;font-weight:400;color:#343741;font-family:'Liberation Sans', Arial, sans-serif;letter-spacing:1.078px;">Selected</span>
<svg class="a" style="left:1540.0px;top:627.0px;" width="26" height="14" viewBox="0 0 26 14"><path d="M1.5 1.5L13 12.5L24.5 1.5" stroke="#343741" stroke-width="2.4" fill="none"/></svg>
<div class="a" style="left:1601.0px;top:602.0px;width:233.0px;height:64.0px;background:#fff;border:2px solid #CED6E3;border-radius:8px;"></div>
<svg class="a" style="left:1618.0px;top:617.0px;" width="34" height="34" viewBox="0 0 34 34"><rect x="2" y="2" width="30" height="30" rx="3" stroke="#343741" stroke-width="2.2" fill="none"/><path d="M2 9h30" stroke="#343741" stroke-width="2.2"/><path d="M6 15h6M15 15h6M24 15h5M6 21h6M15 21h6M24 21h5M6 27h6M15 27h6M24 27h5" stroke="#343741" stroke-width="2"/></svg>
<span class="t" style="left:1667.0px;top:621.7px;font-size:24px;font-weight:400;color:#343741;font-family:'Liberation Sans', Arial, sans-serif;letter-spacing:0.933px;">Columns</span>
<div class="a" style="left:1784.0px;top:618.0px;width:32.0px;height:32.0px;background:#E0E5EE;border-radius:8px;"></div>
<span class="t" style="left:1793.4px;top:621.7px;font-size:24px;font-weight:400;color:#000;font-family:'Liberation Sans', Arial, sans-serif;letter-spacing:0.000px;">3</span>
<div class="a" style="left:1851.0px;top:602.0px;width:249.0px;height:64.0px;background:#fff;border:2px solid #CED6E3;border-radius:8px;"></div>
<svg class="a" style="left:1872.0px;top:621.0px;" width="22" height="26" viewBox="0 0 22 26"><path d="M11 1v24M3 8.5L11 1l8 7.5M3 17.5L11 25l8-7.5" stroke="#343741" stroke-width="2.2" fill="none"/></svg>
<span class="t" style="left:1915.9px;top:621.7px;font-size:24px;font-weight:400;color:#343741;font-family:'Liberation Sans', Arial, sans-serif;letter-spacing:1.019px;">Sort fields</span>
<div class="a" style="left:2050.0px;top:618.0px;width:32.0px;height:32.0px;background:#E0E5EE;border-radius:8px;"></div>
<span class="t" style="left:2060.0px;top:621.7px;font-size:24px;font-weight:400;color:#000;font-family:'Liberation Sans', Arial, sans-serif;letter-spacing:0.000px;">1</span>
<div class="a" style="left:2117.0px;top:602.0px;width:261.0px;height:64.0px;background:#fff;border:2px solid #CED6E3;border-radius:8px;"></div>
<div class="a" style="left:2181.0px;top:604.0px;width:2.0px;height:60.0px;background:#CED6E3;"></div>
<div class="a" style="left:2247.0px;top:604.0px;width:2.0px;height:60.0px;background:#CED6E3;"></div>
<div class="a" style="left:2313.0px;top:604.0px;width:2.0px;height:60.0px;background:#CED6E3;"></div>
<svg class="a" style="left:2131.0px;top:617.0px;" width="36" height="36" viewBox="0 0 36 36"><path transform="scale(2.05)" d="M11.271 11.978l3.872 3.873a.502.502 0 00.708 0 .502.502 0 000-.708l-3.565-3.564c2.38-2.747 2.267-6.923-.342-9.532-2.73-2.73-7.17-2.73-9.898 0-2.728 2.729-2.728 7.17 0 9.9a6.955 6.955 0 004.949 2.05.5.5 0 000-1 5.96 5.96 0 01-4.242-1.757 6.01 6.01 0 010-8.486c2.337-2.34 6.143-2.34 8.484 0a6.01 6.01 0 010 8.486.5.5 0 00.034.738z" fill="#343741"/></svg>
<svg class="a" style="left:2198.0px;top:624.0px;" width="33" height="23" viewBox="0 0 33 23"><rect x="1.2" y="1.2" width="30.6" height="20.6" stroke="#343741" stroke-width="2.4" fill="none"/><rect x="5" y="5" width="2" height="2" fill="#343741"/><rect x="5" y="9" width="2" height="2" fill="#343741"/><rect x="5" y="13" width="2" height="2" fill="#343741"/><rect x="8.6" y="5" width="2" height="2" fill="#343741"/><rect x="8.6" y="9" width="2" height="2" fill="#343741"/><rect x="8.6" y="13" width="2" height="2" fill="#343741"/><rect x="12.2" y="5" width="2" height="2" fill="#343741"/><rect x="12.2" y="9" width="2" height="2" fill="#343741"/><rect x="12.2" y="13" width="2" height="2" fill="#343741"/><rect x="15.8" y="5" width="2" height="2" fill="#343741"/><rect x="15.8" y="9" width="2" height="2" fill="#343741"/><rect x="15.8" y="13" width="2" height="2" fill="#343741"/><rect x="19.4" y="5" width="2" height="2" fill="#343741"/><rect x="19.4" y="9" width="2" height="2" fill="#343741"/><rect x="19.4" y="13" width="2" height="2" fill="#343741"/><rect x="23" y="5" width="2" height="2" fill="#343741"/><rect x="23" y="9" width="2" height="2" fill="#343741"/><rect x="23" y="13" width="2" height="2" fill="#343741"/><rect x="26" y="5" width="3" height="9" fill="#343741"/><rect x="5" y="17" width="4" height="2" fill="#343741"/><rect x="11" y="17" width="12" height="2" fill="#343741"/><rect x="25" y="17" width="3" height="2" fill="#343741"/></svg>
<svg class="a" style="left:2265.0px;top:623.0px;" width="30" height="22" viewBox="0 0 30 22"><path d="M0 5h6M12 5h18M0 15.5h14M20 15.5h10" stroke="#343741" stroke-width="2"/><circle cx="9" cy="5" r="3.5" stroke="#343741" stroke-width="2" fill="none"/><circle cx="17" cy="15.5" r="3.5" stroke="#343741" stroke-width="2" fill="none"/></svg>
<svg class="a" style="left:2329.0px;top:617.0px;" width="34" height="34" viewBox="0 0 34 34"><rect x="1.5" y="1.5" width="30" height="30" rx="4" stroke="#343741" stroke-width="2.6" fill="none"/><path d="M8 13V8h5M20 8h5v5M25 20v5h-5M13 25H8v-5" stroke="#343741" stroke-width="2.4" fill="none"/></svg>
<div class="a" style="left:600.0px;top:723.0px;width:1772.0px;height:2.0px;background:#D3DAE6;"></div>
<div class="a" style="left:608.0px;top:683.0px;width:32.0px;height:32.0px;background:#0077CC;border-radius:8px;"></div>
<div class="a" style="left:618.0px;top:693.0px;width:12.0px;height:12.0px;background:#fff;border-radius:2px;"></div>
<span class="t" style="left:704.6px;top:685.2px;font-size:24px;font-weight:700;color:#343741;font-family:'Liberation Sans', Arial, sans-serif;letter-spacing:0.267px;">order_date</span>
<svg class="a" style="left:838.0px;top:684.0px;" width="28" height="28" viewBox="0 0 28 28"><circle cx="14" cy="14" r="12.2" stroke="#343741" stroke-width="2" fill="none"/><path d="M14 7.5V15h8" stroke="#343741" stroke-width="2" fill="none"/></svg>
<svg class="a" style="left:1083.0px;top:686.0px;" width="24" height="24" viewBox="0 0 24 24"><path d="M12 1v21M2.5 12.5L12 22l9.5-9.5" stroke="#343741" stroke-width="2.2" fill="none"/></svg>
<div class="a" style="left:1128.0px;top:682.0px;width:32.0px;height:32.0px;background:#F0F4F9;border:2px solid #CADCEB;border-radius:7px;"></div>
<span class="t" style="left:1128px;top:682px;width:32px;text-align:center;font-size:22px;font-weight:700;font-style:italic;color:#3F6A92;font-family:'Liberation Sans', Arial, sans-serif;line-height:32px;">k</span>
<span class="t" style="left:1168.2px;top:685.2px;font-size:24px;font-weight:700;color:#343741;font-family:'Liberation Sans', Arial, sans-serif;letter-spacing:0.599px;">email</span>
<div class="a" style="left:600.0px;top:853.0px;width:1772.0px;height:2.0px;background:#D3DAE6;"></div>
<div class="a" style="left:608.0px;top:734.0px;width:32.0px;height:32.0px;background:#fff;border:2px solid #8F9298;border-radius:8px;"></div>
<svg class="a" style="left:660.0px;top:740.0px;" width="24" height="24" viewBox="0 0 24 24"><path d="M5.5 18.4L18.4 5.5M15.1 2.2h5.3a1 1 0 0 1 1 1v5.3M1.7 15.3v5.1a1 1 0 0 0 1 1h6.1" stroke="#343741" stroke-width="2" fill="none"/></svg>
<span class="t" style="left:704.0px;top:741.3px;font-size:26px;font-weight:400;color:#343741;font-family:'Liberation Mono', 'DejaVu Sans Mono', monospace;letter-spacing:0.000px;letter-spacing:-1.2px;">Mar 17, 2025 @ 11:19:12.000</span>
<span class="t" style="left:1128.0px;top:741.3px;font-size:26px;font-weight:400;color:#343741;font-family:'Liberation Mono', 'DejaVu Sans Mono', monospace;letter-spacing:0.000px;letter-spacing:-1.2px;">abigail@sutton-family.zzz</span>
<div class="a" style="left:600.0px;top:855.0px;width:1772.0px;height:128.0px;background:#F1F4FA;"></div>
<div class="a" style="left:600.0px;top:983.0px;width:1772.0px;height:2.0px;background:#D3DAE6;"></div>
<div class="a" style="left:608.0px;top:864.0px;width:32.0px;height:32.0px;background:#0077CC;border-radius:8px;"></div>
<svg class="a" style="left:608.0px;top:864.0px;" width="32" height="32" viewBox="0 0 32 32"><path d="M7.4 14.6L13.7 21 24.5 10.1" stroke="#fff" stroke-width="3" fill="none" stroke-linecap="round" stroke-linejoin="round"/></svg>
<svg class="a" style="left:660.0px;top:870.0px;" width="24" height="24" viewBox="0 0 24 24"><path d="M5.5 18.4L18.4 5.5M15.1 2.2h5.3a1 1 0 0 1 1 1v5.3M1.7 15.3v5.1a1 1 0 0 0 1 1h6.1" stroke="#343741" stroke-width="2" fill="none"/></svg>
<span class="t" style="left:704.0px;top:871.3px;font-size:26px;font-weight:400;color:#343741;font-family:'Liberation Mono', 'DejaVu Sans Mono', monospace;letter-spacing:0.000px;letter-spacing:-1.2px;">Mar 17, 2025 @ 11:17:46.000</span>
<span class="t" style="left:1128.0px;top:871.3px;font-size:26px;font-weight:400;color:#343741;font-family:'Liberation Mono', 'DejaVu Sans Mono', monospace;letter-spacing:0.000px;letter-spacing:-1.2px;">tariq@gilbert-family.zzz</span>
<span class="t" style="left:1753.7px;top:871.3px;font-size:26px;font-weight:400;color:#343741;font-family:'Liberation Mono', 'DejaVu Sans Mono', monospace;letter-spacing:0.000px;letter-spacing:-1.2px;">EUR</span>
<div class="a" style="left:600.0px;top:1113.0px;width:1772.0px;height:2.0px;background:#D3DAE6;"></div>
<div class="a" style="left:608.0px;top:994.0px;width:32.0px;height:32.0px;background:#0077CC;border-radius:8px;"></div>
<svg class="a" style="left:608.0px;top:994.0px;" width="32" height="32" viewBox="0 0 32 32"><path d="M7.4 14.6L13.7 21 24.5 10.1" stroke="#fff" stroke-width="3" fill="none" stroke-linecap="round" stroke-linejoin="round"/></svg>
<svg class="a" style="left:660.0px;top:1000.0px;" width="24" height="24" viewBox="0 0 24 24"><path d="M5.5 18.4L18.4 5.5M15.1 2.2h5.3a1 1 0 0 1 1 1v5.3M1.7 15.3v5.1a1 1 0 0 0 1 1h6.1" stroke="#343741" stroke-width="2" fill="none"/></svg>
<span class="t" style="left:704.0px;top:1001.3px;font-size:26px;font-weight:400;color:#343741;font-family:'Liberation Mono', 'DejaVu Sans Mono', monospace;letter-spacing:0.000px;letter-spacing:-1.2px;">Mar 17, 2025 @ 11:14:53.000</span>
<span class="t" style="left:1128.0px;top:1001.3px;font-size:26px;font-weight:400;color:#343741;font-family:'Liberation Mono', 'DejaVu Sans Mono', monospace;letter-spacing:0.000px;letter-spacing:-1.2px;">youssef@hayes-family.zzz</span>
<span class="t" style="left:1753.7px;top:1001.3px;font-size:26px;font-weight:400;color:#343741;font-family:'Liberation Mono', 'DejaVu Sans Mono', monospace;letter-spacing:0.000px;letter-spacing:-1.2px;">EUR</span>
<div class="a" style="left:600.0px;top:1115.0px;width:1772.0px;height:128.0px;background:#F1F4FA;"></div>
<div class="a" style="left:600.0px;top:1243.0px;width:1772.0px;height:2.0px;background:#D3DAE6;"></div>
<div class="a" style="left:608.0px;top:1124.0px;width:32.0px;height:32.0px;background:#0077CC;border-radius:8px;"></div>
<svg class="a" style="left:608.0px;top:1124.0px;" width="32" height="32" viewBox="0 0 32 32"><path d="M7.4 14.6L13.7 21 24.5 10.1" stroke="#fff" stroke-width="3" fill="none" stroke-linecap="round" stroke-linejoin="round"/></svg>
<svg class="a" style="left:660.0px;top:1130.0px;" width="24" height="24" viewBox="0 0 24 24"><path d="M5.5 18.4L18.4 5.5M15.1 2.2h5.3a1 1 0 0 1 1 1v5.3M1.7 15.3v5.1a1 1 0 0 0 1 1h6.1" stroke="#343741" stroke-width="2" fill="none"/></svg>
<span class="t" style="left:704.0px;top:1131.3px;font-size:26px;font-weight:400;color:#343741;font-family:'Liberation Mono', 'DejaVu Sans Mono', monospace;letter-spacing:0.000px;letter-spacing:-1.2px;">Mar 17, 2025 @ 10:56:10.000</span>
<span class="t" style="left:1128.0px;top:1131.3px;font-size:26px;font-weight:400;color:#343741;font-family:'Liberation Mono', 'DejaVu Sans Mono', monospace;letter-spacing:0.000px;letter-spacing:-1.2px;">frances@salazar-family.zzz</span>
<span class="t" style="left:1753.7px;top:1131.3px;font-size:26px;font-weight:400;color:#343741;font-family:'Liberation Mono', 'DejaVu Sans Mono', monospace;letter-spacing:0.000px;letter-spacing:-1.2px;">EUR</span>
<div class="a" style="left:600.0px;top:1373.0px;width:1772.0px;height:2.0px;background:#D3DAE6;"></div>
<div class="a" style="left:608.0px;top:1254.0px;width:32.0px;height:32.0px;background:#fff;border:2px solid #8F9298;border-radius:8px;"></div>
<svg class="a" style="left:660.0px;top:1260.0px;" width="24" height="24" viewBox="0 0 24 24"><path d="M5.5 18.4L18.4 5.5M15.1 2.2h5.3a1 1 0 0 1 1 1v5.3M1.7 15.3v5.1a1 1 0 0 0 1 1h6.1" stroke="#343741" stroke-width="2" fill="none"/></svg>
<span class="t" style="left:704.0px;top:1261.3px;font-size:26px;font-weight:400;color:#343741;font-family:'Liberation Mono', 'DejaVu Sans Mono', monospace;letter-spacing:0.000px;letter-spacing:-1.2px;">Mar 17, 2025 @ 10:27:22.000</span>
<span class="t" style="left:1128.0px;top:1261.3px;font-size:26px;font-weight:400;color:#343741;font-family:'Liberation Mono', 'DejaVu Sans Mono', monospace;letter-spacing:0.000px;letter-spacing:-1.2px;">oliver@rios-family.zzz</span>
<span class="t" style="left:1753.7px;top:1261.3px;font-size:26px;font-weight:400;color:#343741;font-family:'Liberation Mono', 'DejaVu Sans Mono', monospace;letter-spacing:0.000px;letter-spacing:-1.2px;">EUR</span>
<div class="a" style="left:600.0px;top:1375.0px;width:1772.0px;height:128.0px;background:#F1F4FA;"></div>
<div class="a" style="left:600.0px;top:1503.0px;width:1772.0px;height:2.0px;background:#D3DAE6;"></div>
<div class="a" style="left:608.0px;top:1384.0px;width:32.0px;height:32.0px;background:#fff;border:2px solid #8F9298;border-radius:8px;"></div>
<svg class="a" style="left:660.0px;top:1390.0px;" width="24" height="24" viewBox="0 0 24 24"><path d="M5.5 18.4L18.4 5.5M15.1 2.2h5.3a1 1 0 0 1 1 1v5.3M1.7 15.3v5.1a1 1 0 0 0 1 1h6.1" stroke="#343741" stroke-width="2" fill="none"/></svg>
<span class="t" style="left:704.0px;top:1391.3px;font-size:26px;font-weight:400;color:#343741;font-family:'Liberation Mono', 'DejaVu Sans Mono', monospace;letter-spacing:0.000px;letter-spacing:-1.2px;">Mar 17, 2025 @ 10:05:46.000</span>
<span class="t" style="left:1128.0px;top:1391.3px;font-size:26px;font-weight:400;color:#343741;font-family:'Liberation Mono', 'DejaVu Sans Mono', monospace;letter-spacing:0.000px;letter-spacing:-1.2px;">sonya@mullins-family.zzz</span>
<span class="t" style="left:1753.7px;top:1391.3px;font-size:26px;font-weight:400;color:#343741;font-family:'Liberation Mono', 'DejaVu Sans Mono', monospace;letter-spacing:0.000px;letter-spacing:-1.2px;">EUR</span>
<div class="a" style="left:2378.0px;top:680.0px;width:14.0px;height:52.0px;background:#ABB0BA;border-radius:6px;"></div>
<div class="a" style="left:600.0px;top:1507.0px;width:1788.0px;height:2.0px;background:#D3DAE6;"></div>
<span class="t" style="left:615.3px;top:1537.5px;font-size:24px;font-weight:400;color:#343741;font-family:'Liberation Sans', Arial, sans-serif;letter-spacing:0.632px;-webkit-text-stroke:0.55px #343741;">Rows per page: 100</span>
<svg class="a" style="left:860.0px;top:1544.0px;" width="20" height="11" viewBox="0 0 20 11"><path d="M1.5 1.5L10 9.5L18.5 1.5" stroke="#343741" stroke-width="2.2" fill="none"/></svg>
<svg class="a" style="left:2119.0px;top:1536.0px;" width="16" height="28" viewBox="0 0 16 28"><path d="M14 2L3 14l11 12" stroke="#98A2B3" stroke-width="2.4" fill="none"/></svg>
<span class="t" style="left:2167.5px;top:1534.6px;font-size:30px;font-weight:700;color:#006BB8;font-family:'Liberation Sans', Arial, sans-serif;letter-spacing:0.000px;">1</span>
<div class="a" style="left:2167.0px;top:1562.0px;width:13.0px;height:2.0px;background:#0077CC;"></div>
<span class="t" style="left:2214.0px;top:1534.6px;font-size:30px;font-weight:400;color:#343741;font-family:'Liberation Sans', Arial, sans-serif;letter-spacing:0.000px;-webkit-text-stroke:0.55px #343741;">2</span>
<span class="t" style="left:2263.0px;top:1534.6px;font-size:30px;font-weight:400;color:#343741;font-family:'Liberation Sans', Arial, sans-serif;letter-spacing:0.000px;-webkit-text-stroke:0.55px #343741;">3</span>
<span class="t" style="left:2313.0px;top:1534.6px;font-size:30px;font-weight:400;color:#343741;font-family:'Liberation Sans', Arial, sans-serif;letter-spacing:0.000px;-webkit-text-stroke:0.55px #343741;">4</span>
<svg class="a" style="left:2361.0px;top:1536.0px;" width="16" height="28" viewBox="0 0 16 28"><path d="M2 2l11 12L2 26" stroke="#343741" stroke-width="2.4" fill="none"/></svg>
<div class="a" style="left:1484px;top:682px;width:832px;height:442px;background:#fff;border-radius:12px;box-shadow:0 2px 4px rgba(0,0,0,.06),0 12px 24px rgba(0,0,0,.09),0 20px 52px rgba(0,0,0,.11);"></div>
<svg class="a" style="left:2256.0px;top:662.0px;filter:drop-shadow(0 -2px 3px rgba(0,0,0,.04));" width="48" height="22" viewBox="0 0 48 22"><path d="M0 21L24 1.5 48 21z" fill="#fff"/></svg>
<span class="t" style="left:1501.7px;top:721.9px;font-size:24px;font-weight:700;color:#1A1C21;font-family:'Liberation Sans', Arial, sans-serif;letter-spacing:0.142px;">Density</span>
<span class="t" style="left:1501.7px;top:836.1px;font-size:24px;font-weight:700;color:#1A1C21;font-family:'Liberation Sans', Arial, sans-serif;letter-spacing:0.177px;">Max header cell lines</span>
<span class="t" style="left:1501.7px;top:950.7px;font-size:24px;font-weight:700;color:#1A1C21;font-family:'Liberation Sans', Arial, sans-serif;letter-spacing:-0.122px;">Body cell lines</span>
<span class="t" style="left:1502.7px;top:1064.2px;font-size:24px;font-weight:700;color:#1A1C21;font-family:'Liberation Sans', Arial, sans-serif;letter-spacing:0.075px;">Sample size</span>
<div class="a" style="left:1502.0px;top:788.0px;width:796.0px;height:2.0px;background:#D3DAE6;"></div>
<div class="a" style="left:1502.0px;top:902.0px;width:796.0px;height:2.0px;background:#D3DAE6;"></div>
<div class="a" style="left:1502.0px;top:1016.0px;width:796.0px;height:2.0px;background:#D3DAE6;"></div>
<div class="a" style="left:1765.5px;top:700.5px;width:531.5px;height:63.0px;background:#FBFCFD;border:2px solid #E3E7EE;border-radius:8px;"></div>
<div class="a" style="left:1771.0px;top:706.0px;width:168.0px;height:52.0px;background:#69707D;border-radius:8px;"></div>
<span class="t" style="left:1792.6px;top:718.6px;font-size:28px;font-weight:700;color:#fff;font-family:'Liberation Sans', Arial, sans-serif;letter-spacing:0.589px;">Compact</span>
<span class="t" style="left:1982.8px;top:718.6px;font-size:28px;font-weight:400;color:#343741;font-family:'Liberation Sans', Arial, sans-serif;letter-spacing:1.237px;">Normal</span>
<span class="t" style="left:2140.4px;top:718.6px;font-size:28px;font-weight:400;color:#343741;font-family:'Liberation Sans', Arial, sans-serif;letter-spacing:1.109px;">Expanded</span>
<div class="a" style="left:1765.5px;top:814.5px;width:353.5px;height:63.0px;background:#FBFCFD;border:2px solid #E3E7EE;border-radius:8px;"></div>
<div class="a" style="left:1946.0px;top:820.0px;width:168.0px;height:52.0px;background:#69707D;border-radius:8px;"></div>
<span class="t" style="left:1824.5px;top:833.1px;font-size:28px;font-weight:400;color:#343741;font-family:'Liberation Sans', Arial, sans-serif;letter-spacing:0.924px;">Auto</span>
<span class="t" style="left:1977.2px;top:833.1px;font-size:28px;font-weight:700;color:#fff;font-family:'Liberation Sans', Arial, sans-serif;letter-spacing:0.255px;">Custom</span>
<div class="a" style="left:2136.5px;top:814.5px;width:160.5px;height:63.0px;background:#FBFCFD;border:2px solid #E3E7EE;border-radius:8px;"></div>
<span class="t" style="left:2153.4px;top:831.6px;font-size:30px;font-weight:400;color:#343741;font-family:'Liberation Sans', Arial, sans-serif;letter-spacing:0.000px;">3</span>
<div class="a" style="left:1765.5px;top:929.0px;width:353.5px;height:63.0px;background:#FBFCFD;border:2px solid #E3E7EE;border-radius:8px;"></div>
<div class="a" style="left:1946.0px;top:934.5px;width:168.0px;height:52.0px;background:#69707D;border-radius:8px;"></div>
<span class="t" style="left:1824.5px;top:947.6px;font-size:28px;font-weight:400;color:#343741;font-family:'Liberation Sans', Arial, sans-serif;letter-spacing:0.924px;">Auto</span>
<span class="t" style="left:1977.2px;top:947.6px;font-size:28px;font-weight:700;color:#fff;font-family:'Liberation Sans', Arial, sans-serif;letter-spacing:0.255px;">Custom</span>
<div class="a" style="left:2136.5px;top:929.0px;width:160.5px;height:63.0px;background:#FBFCFD;border:2px solid #E3E7EE;border-radius:8px;"></div>
<span class="t" style="left:2153.4px;top:946.1px;font-size:30px;font-weight:400;color:#343741;font-family:'Liberation Sans', Arial, sans-serif;letter-spacing:0.000px;">3</span>
<div class="a" style="left:1765.0px;top:1068.0px;width:373.0px;height:12.0px;background:#D3DAE6;border-radius:6px;"></div>
<div class="a" style="left:2034.5px;top:1056px;width:35px;height:35px;border-radius:50%;background:#69707D;border:5.5px solid #fff;box-shadow:0 1px 3px rgba(0,0,0,.18);"></div>
<div class="a" style="left:2170.5px;top:1042.5px;width:127.0px;height:62.5px;background:#FBFCFD;border:2px solid #E3E7EE;border-radius:8px;"></div>
<span class="t" style="left:2187.2px;top:1059.1px;font-size:30px;font-weight:400;color:#343741;font-family:'Liberation Sans', Arial, sans-serif;letter-spacing:0.665px;">400</span>
</body></html>
